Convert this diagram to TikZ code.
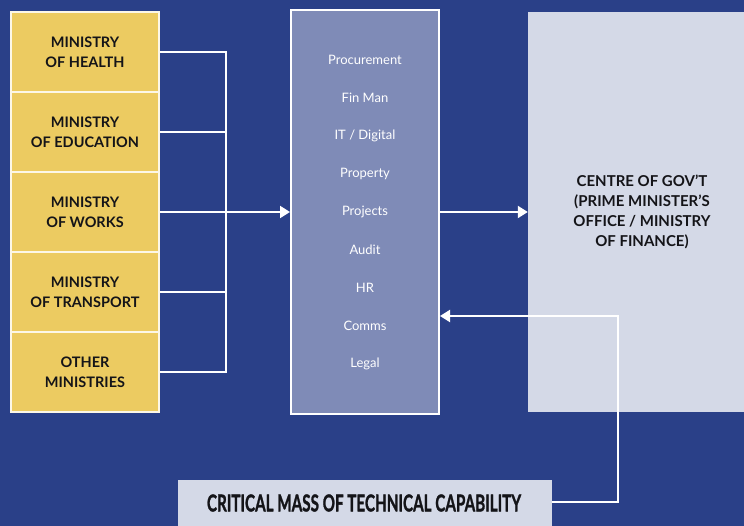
\documentclass[tikz,border=0pt]{standalone}
\usepackage{fontspec}
\setmainfont{Lato}
\newfontfamily\capfont[FakeBold=1.6]{Lato}
\usetikzlibrary{arrows.meta}
\definecolor{navy}{RGB}{42,64,136}
\definecolor{mustard}{RGB}{236,203,97}
\definecolor{slate}{RGB}{127,139,183}
\definecolor{mist}{RGB}{212,217,231}
\definecolor{ink}{RGB}{20,20,24}
\tikzset{
  ministry/.style={draw=white!85!mustard, line width=1.2pt, fill=mustard,
    minimum width=148pt, minimum height=80pt, inner sep=0pt,
    align=center, font=\bfseries\fontsize{14.5}{20}\selectfont, text=ink},
  hub/.style={draw=white, line width=2pt, fill=slate, minimum width=148pt,
    minimum height=403pt, inner sep=0pt},
  skill/.style={font=\fontsize{13}{15}\selectfont, text=white},
  centrebox/.style={fill=mist, minimum width=216pt, minimum height=400pt, inner sep=0pt},
  centretext/.style={align=center, inner sep=0pt,
    font=\bfseries\fontsize{15}{20}\selectfont, text=ink},
  capbox/.style={fill=mist, minimum width=374pt, minimum height=46pt, inner sep=0pt},
  wire/.style={draw=white, line width=2pt},
  feed/.style={wire, -{Triangle[length=10pt,width=12pt]}},
}
\begin{document}
\begin{tikzpicture}[x=1pt,y=-1pt]
  \fill[navy] (0,0) rectangle (744,526);
  \useasboundingbox (0,0) rectangle (744,526);

  % ministries
  \node[ministry] (m1) at (85,52)  {MINISTRY\\OF HEALTH};
  \node[ministry] (m2) at (85,132) {MINISTRY\\OF EDUCATION};
  \node[ministry] (m3) at (85,212) {MINISTRY\\OF WORKS};
  \node[ministry] (m4) at (85,292) {MINISTRY\\OF TRANSPORT};
  \node[ministry] (m5) at (85,372) {OTHER\\MINISTRIES};

  % shared functions
  \node[hub] (hub) at (365,212) {};
  \foreach \t [count=\i] in {Procurement,Fin Man,IT / Digital,Property,Projects,Audit,HR,Comms,Legal}
    \node[skill] (s\i) at (365,22+38*\i) {\t};

  % centre of government
  \node[centrebox] (cog) at (636,212) {};
  \node[centretext] (cogtxt) at (642,212) {CENTRE OF GOV'T\\(PRIME MINISTER'S\\OFFICE / MINISTRY\\OF FINANCE)};

  % capability box
  \node[capbox] (cap) at (365,503) {};
  \node[text=ink, inner sep=0pt] (captxt) at (364,503)
    {\resizebox{314pt}{17pt}{\capfont\bfseries CRITICAL MASS OF TECHNICAL CAPABILITY}};

  % bus from ministries into the hub
  \coordinate (bus) at (226,212);
  \foreach \m in {m1,m2,m4,m5}
    \draw[wire] (\m.east) -| (bus);
  \draw[feed] (m3.east) -- (hub.west);

  % hub to centre of government
  \draw[feed] (hub.east) -- (cog.west);

  % feedback from capability to hub
  \coordinate (c1) at (618,502);
  \coordinate (c2) at (618,316);
  \draw[feed] (cap.east |- c1) -- (c1) -- (c2) -- (hub.east |- c2);
\end{tikzpicture}
\end{document}
